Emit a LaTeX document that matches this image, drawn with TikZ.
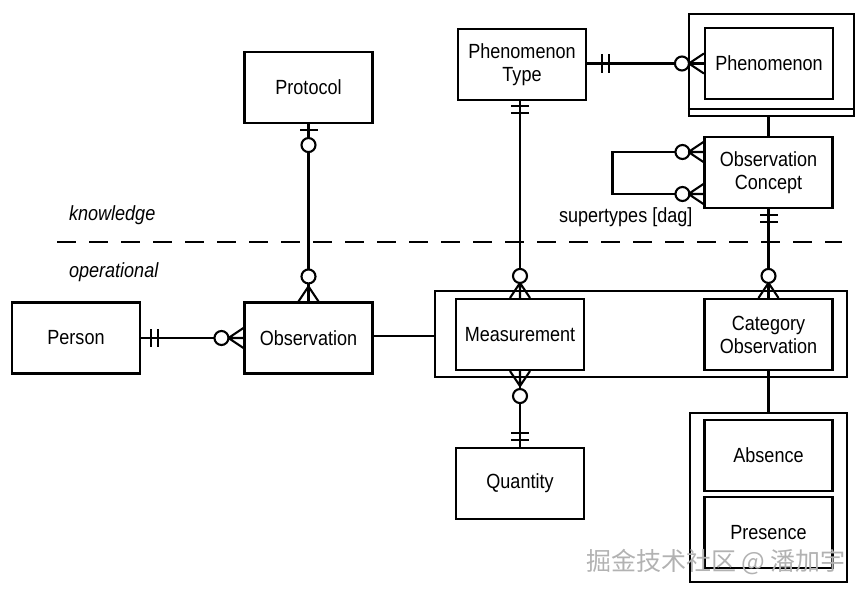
\documentclass[tikz,border=0pt]{standalone}
\usepackage{fontspec}
\setmainfont{Liberation Sans}[FakeStretch=0.88]
\newfontfamily\cjkfont{Noto Sans CJK SC}
\newcommand\ERmany[2]{\begin{scope}[shift={(#1)},rotate=#2]\draw (15,0) -- (0,10) (15,0) -- (0,0) (15,0) -- (0,-10);\end{scope}}
\newcommand\ERzero[3]{\begin{scope}[shift={(#1)},rotate=#2]\draw[fill=white] (#3,0) circle (7pt);\end{scope}}
\newcommand\ERone[3]{\begin{scope}[shift={(#1)},rotate=#2]\draw (#3,-9) -- (#3,9);\end{scope}}
\newcommand\ERtwo[3]{\begin{scope}[shift={(#1)},rotate=#2]\draw (#3,-9) -- (#3,9) (#3+7,-9) -- (#3+7,9);\end{scope}}
\begin{document}
\begin{tikzpicture}[x=1pt,y=-1pt,line width=2.1pt,
  box/.style={draw, minimum width=128pt, minimum height=71pt, inner sep=0pt, align=center, font=\fontsize{20.5}{23}\selectfont},
  frame/.style={draw, inner sep=0pt},
  lbl/.style={inner sep=0pt, font=\fontsize{20.5}{23}\selectfont}]
\useasboundingbox (0,0) rectangle (864,594);
% nodes
\node[box] (pt) at (522,64.5) {Phenomenon\\Type};
\node[frame, minimum width=165pt, minimum height=102pt] (phout) at (771.5,65) {};
\node[box] (ph) at (769,63.5) {Phenomenon};
\node[box] (oc) at (768.5,172.5) {Observation\\Concept};
\node[box] (prot) at (308.5,87.5) {Protocol};
\node[box] (pers) at (76,338) {Person};
\node[box] (obs) at (308.5,338) {Observation};
\node[frame, minimum width=412pt, minimum height=86pt] (cont) at (641,334) {};
\node[box] (meas) at (520,334.5) {Measurement};
\node[box] (cat) at (768.5,334.5) {Category\\Observation};
\node[box] (qty) at (520,483.5) {Quantity};
\node[frame, minimum width=157pt, minimum height=169pt] (low) at (768.5,497.5) {};
\node[box] (abs) at (768.5,455.5) {Absence};
\node[box] (pres) at (768.5,532.5) {Presence};
\draw ([yshift=8pt]phout.south west) -- ([yshift=8pt]phout.south east);
% labels
\node[lbl, anchor=base west] (kn) at (68,220) {\itshape knowledge};
\node[lbl, anchor=base west] (op) at (68,277) {\itshape operational};
\node[lbl, anchor=base west] (st) at (558,222) {supertypes [dag]};
% dashed boundary
\coordinate (dl) at (57,242);
\coordinate (dr) at (842,242);
\draw[dash pattern=on 19pt off 13pt] (dl) -- (dr);
% connectors
\draw (ph.west -| pt.east) -- (ph.west);
\draw (meas.north) -- (meas.north |- pt.south);
\draw (oc.north) -- (oc.north |- phout.south);
\draw ([yshift=20.5pt]oc.west) -- ++(-91pt,0) |- ([yshift=-21.5pt]oc.west);
\draw (oc.south) -- (cat.north);
\draw (prot.south) -- (obs.north);
\draw (pers.east) -- (obs.west);
\draw ([yshift=2pt]obs.east) -- ([yshift=2pt]obs.east -| cont.west);
\draw (meas.south) -- (qty.north);
\draw (cat.south) -- (cat.south |- low.north);
% ends
\ERtwo{ph.west -| pt.east}{0}{15}
\ERzero{ph.west}{180}{22}
\ERmany{ph.west}{180}
\ERtwo{meas.north |- pt.south}{-90}{5}
\ERzero{meas.north}{90}{22}
\ERmany{meas.north}{90}
\ERtwo{oc.south}{-90}{6}
\ERzero{cat.north}{90}{22}
\ERmany{cat.north}{90}
\ERzero{[yshift=20.5pt]oc.west}{180}{21}
\ERmany{[yshift=20.5pt]oc.west}{180}
\ERzero{[yshift=-21.5pt]oc.west}{180}{21}
\ERmany{[yshift=-21.5pt]oc.west}{180}
\ERone{prot.south}{-90}{6}
\ERzero{prot.south}{-90}{21}
\ERzero{obs.north}{90}{25}
\ERmany{obs.north}{90}
\ERtwo{pers.east}{0}{10}
\ERzero{obs.west}{180}{22}
\ERmany{obs.west}{180}
\ERmany{meas.south}{-90}
\ERzero{meas.south}{-90}{25}
\ERtwo{qty.north}{90}{7}
% watermark
\node[anchor=west, inner sep=0pt, text=gray!60, font=\cjkfont\fontsize{25}{25}\selectfont] (wm) at (585,562) {掘金技术社区 @ 潘加宇};
\end{tikzpicture}
\end{document}
